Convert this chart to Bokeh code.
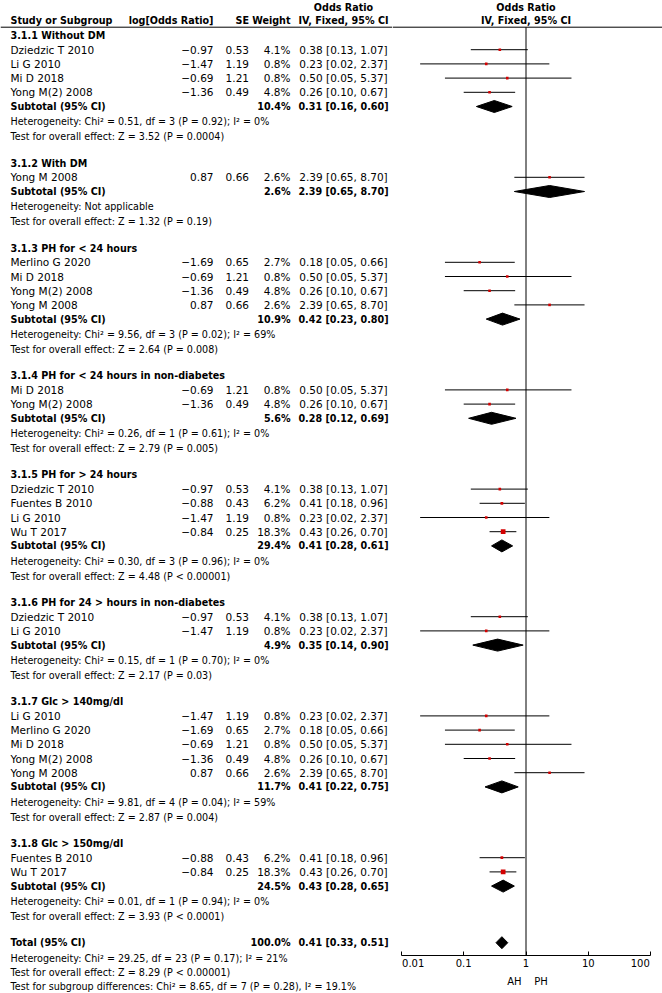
import math
from bokeh.plotting import figure
from bokeh.layouts import row
from bokeh.models import ColumnDataSource, Range1d, FixedTicker
from bokeh.core.properties import value
from bokeh.embed import file_html
from bokeh.resources import INLINE

# ---------------- data ----------------
STUDY_GROUP = [0, 0, 0, 0, 1, 2, 2, 2, 2, 3, 3, 4, 4, 4, 4, 5, 5, 6, 6, 6, 6, 6, 7, 7]
STUDY_NAME = ["Dziedzic T 2010", "Li G 2010", "Mi D 2018", "Yong M(2) 2008",
              "Yong M 2008",
              "Merlino G 2020", "Mi D 2018", "Yong M(2) 2008", "Yong M 2008",
              "Mi D 2018", "Yong M(2) 2008",
              "Dziedzic T 2010", "Fuentes B 2010", "Li G 2010", "Wu T 2017",
              "Dziedzic T 2010", "Li G 2010",
              "Li G 2010", "Merlino G 2020", "Mi D 2018", "Yong M(2) 2008", "Yong M 2008",
              "Fuentes B 2010", "Wu T 2017"]
STUDY_LOG_OR = [-0.97, -1.47, -0.69, -1.36, 0.87, -1.69, -0.69, -1.36, 0.87, -0.69, -1.36,
                -0.97, -0.88, -1.47, -0.84, -0.97, -1.47, -1.47, -1.69, -0.69, -1.36, 0.87,
                -0.88, -0.84]
STUDY_SE = [0.53, 1.19, 1.21, 0.49, 0.66, 0.65, 1.21, 0.49, 0.66, 1.21, 0.49,
            0.53, 0.43, 1.19, 0.25, 0.53, 1.19, 1.19, 0.65, 1.21, 0.49, 0.66, 0.43, 0.25]
STUDY_WEIGHT = [4.1, 0.8, 0.8, 4.8, 2.6, 2.7, 0.8, 4.8, 2.6, 0.8, 4.8,
                4.1, 6.2, 0.8, 18.3, 4.1, 0.8, 0.8, 2.7, 0.8, 4.8, 2.6, 6.2, 18.3]
STUDY_OR = [0.38, 0.23, 0.50, 0.26, 2.39, 0.18, 0.50, 0.26, 2.39, 0.50, 0.26,
            0.38, 0.41, 0.23, 0.43, 0.38, 0.23, 0.23, 0.18, 0.50, 0.26, 2.39, 0.41, 0.43]
STUDY_LO = [0.13, 0.02, 0.05, 0.10, 0.65, 0.05, 0.05, 0.10, 0.65, 0.05, 0.10,
            0.13, 0.18, 0.02, 0.26, 0.13, 0.02, 0.02, 0.05, 0.05, 0.10, 0.65, 0.18, 0.26]
STUDY_HI = [1.07, 2.37, 5.37, 0.67, 8.70, 0.66, 5.37, 0.67, 8.70, 5.37, 0.67,
            1.07, 0.96, 2.37, 0.70, 1.07, 2.37, 2.37, 0.66, 5.37, 0.67, 8.70, 0.96, 0.70]

SUB_TITLE = ["3.1.1 Without DM", "3.1.2 With DM", "3.1.3 PH for < 24 hours",
             "3.1.4 PH for < 24 hours in non-diabetes", "3.1.5 PH for > 24 hours",
             "3.1.6 PH for 24 > hours in non-diabetes", "3.1.7 Glc > 140mg/dl",
             "3.1.8 Glc > 150mg/dl"]
SUB_WEIGHT = [10.4, 2.6, 10.9, 5.6, 29.4, 4.9, 11.7, 24.5]
SUB_OR = [0.31, 2.39, 0.42, 0.28, 0.41, 0.35, 0.41, 0.43]
SUB_LO = [0.16, 0.65, 0.23, 0.12, 0.28, 0.14, 0.22, 0.28]
SUB_HI = [0.60, 8.70, 0.80, 0.69, 0.61, 0.90, 0.75, 0.65]
SUB_HET = ["Heterogeneity: Chi² = 0.51, df = 3 (P = 0.92); I² = 0%",
           "Heterogeneity: Not applicable",
           "Heterogeneity: Chi² = 9.56, df = 3 (P = 0.02); I² = 69%",
           "Heterogeneity: Chi² = 0.26, df = 1 (P = 0.61); I² = 0%",
           "Heterogeneity: Chi² = 0.30, df = 3 (P = 0.96); I² = 0%",
           "Heterogeneity: Chi² = 0.15, df = 1 (P = 0.70); I² = 0%",
           "Heterogeneity: Chi² = 9.81, df = 4 (P = 0.04); I² = 59%",
           "Heterogeneity: Chi² = 0.01, df = 1 (P = 0.94); I² = 0%"]
SUB_TEST = ["Test for overall effect: Z = 3.52 (P = 0.0004)",
            "Test for overall effect: Z = 1.32 (P = 0.19)",
            "Test for overall effect: Z = 2.64 (P = 0.008)",
            "Test for overall effect: Z = 2.79 (P = 0.005)",
            "Test for overall effect: Z = 4.48 (P < 0.00001)",
            "Test for overall effect: Z = 2.17 (P = 0.03)",
            "Test for overall effect: Z = 2.87 (P = 0.004)",
            "Test for overall effect: Z = 3.93 (P < 0.0001)"]

TOTAL_LABEL = "Total (95% CI)"
TOTAL_WEIGHT = 100.0
TOTAL_OR = 0.41
TOTAL_LO = 0.33
TOTAL_HI = 0.51
TOTAL_NOTES = ["Heterogeneity: Chi² = 29.25, df = 23 (P = 0.17); I² = 21%",
               "Test for overall effect: Z = 8.29 (P < 0.00001)",
               "Test for subgroup differences: Chi² = 8.65, df = 7 (P = 0.28), I² = 19.1%"]

HEADERS = ["Study or Subgroup", "log[Odds Ratio]", "SE", "Weight", "IV, Fixed, 95% CI"]
PLOT_HEADER = ["Odds Ratio", "IV, Fixed, 95% CI"]
AXIS_TICKS = [0.01, 0.1, 1, 10, 100]
AXIS_LABELS = ["0.01", "0.1", "1", "10", "100"]
AXIS_SIDES = ["AH", "PH"]

# ---------------- layout (reference pixel units) ----------------
FIG_H = 993
X0, XSPLIT, X1 = 0, 392, 662
NULL_X = 525.5
DECADE = 62.3
AXIS_Y = 955

X_NAME = 10
X_LOGOR = 213
X_SE = 248.5
X_WEIGHT = 290
X_CI = 343

Y_HEAD1 = 6.5
Y_HEAD2 = 20
Y_LINE = 26.7
Y_FIRST = 35
PITCH = 14.2
HET_GAP = 15.3
TEST_GAP = 15
BLOCK_GAP = 26.3
DIAM_H = 6
TOTAL_NOTE_GAP = 15.5
TOTAL_NOTE_PITCH = 14

FONT = "DejaVu Sans"
SZ_REG = "10.5px"
SZ_BOLD = "9.6px"
SZ_NOTE = "9.6px"

NBSP = "\u00a0"


def fnum(v):
    s = f"{v:.2f}"
    return s.replace("-", "\u2212")


def fci(o, lo, hi):
    return f"{o:.2f} [{lo:.2f}, {hi:.2f}]"


buckets = {}


def add(x, y, t, align="left", bold=False, size=SZ_REG):
    key = (align, bold, size)
    b = buckets.setdefault(key, {"x": [], "y": [], "t": []})
    b["x"].append(x)
    b["y"].append(y)
    b["t"].append(t)


# header
add(X_CI, Y_HEAD1, PLOT_HEADER[0], "center", True, SZ_BOLD)
add(X_NAME, Y_HEAD2, HEADERS[0], "left", True, SZ_BOLD)
add(X_LOGOR, Y_HEAD2, HEADERS[1], "right", True, SZ_BOLD)
add(X_SE, Y_HEAD2, HEADERS[2], "right", True, SZ_BOLD)
add(X_WEIGHT, Y_HEAD2, HEADERS[3], "right", True, SZ_BOLD)
add(X_CI, Y_HEAD2, HEADERS[4], "center", True, SZ_BOLD)

st_y, st_x, st_lo, st_hi, st_sz = [], [], [], [], []
dia_xs, dia_ys = [], []

y = Y_FIRST
for g, title in enumerate(SUB_TITLE):
    add(X_NAME, y, title, "left", True, SZ_BOLD)
    for i, gi in enumerate(STUDY_GROUP):
        if gi != g:
            continue
        y += PITCH
        add(X_NAME, y, STUDY_NAME[i])
        add(X_LOGOR, y, fnum(STUDY_LOG_OR[i]), "right")
        add(X_SE, y, f"{STUDY_SE[i]:.2f}", "right")
        add(X_WEIGHT, y, f"{STUDY_WEIGHT[i]:.1f}%", "right")
        add(X_CI, y, fci(STUDY_OR[i], STUDY_LO[i], STUDY_HI[i]), "center")
        st_y.append(y)
        st_x.append(STUDY_OR[i])
        st_lo.append(STUDY_LO[i])
        st_hi.append(STUDY_HI[i])
        st_sz.append(max(2.6, 1.1 * math.sqrt(STUDY_WEIGHT[i])))
    y += PITCH
    add(X_NAME, y, "Subtotal (95% CI)", "left", True, SZ_BOLD)
    add(X_WEIGHT, y, f"{SUB_WEIGHT[g]:.1f}%", "right", True, SZ_BOLD)
    add(X_CI, y, fci(SUB_OR[g], SUB_LO[g], SUB_HI[g]), "center", True, SZ_BOLD)
    dia_xs.append([SUB_LO[g], SUB_OR[g], SUB_HI[g], SUB_OR[g]])
    dia_ys.append([y, y - DIAM_H, y, y + DIAM_H])
    y += HET_GAP
    add(X_NAME, y, SUB_HET[g], "left", False, SZ_NOTE)
    y += TEST_GAP
    add(X_NAME, y, SUB_TEST[g], "left", False, SZ_NOTE)
    y += BLOCK_GAP

add(X_NAME, y, TOTAL_LABEL, "left", True, SZ_BOLD)
add(X_WEIGHT, y, f"{TOTAL_WEIGHT:.1f}%", "right", True, SZ_BOLD)
add(X_CI, y, fci(TOTAL_OR, TOTAL_LO, TOTAL_HI), "center", True, SZ_BOLD)
dia_xs.append([TOTAL_LO, TOTAL_OR, TOTAL_HI, TOTAL_OR])
dia_ys.append([y, y - DIAM_H, y, y + DIAM_H])
y += TOTAL_NOTE_GAP
for note in TOTAL_NOTES:
    add(X_NAME, y, note, "left", False, SZ_NOTE)
    y += TOTAL_NOTE_PITCH

# ---------------- left figure: table ----------------
left = figure(x_range=Range1d(X0, XSPLIT), y_range=Range1d(FIG_H, 0),
              frame_width=XSPLIT - X0, frame_height=FIG_H, min_border=0,
              toolbar_location=None, output_backend="svg",
              x_axis_location=None, y_axis_location=None,
              outline_line_color=None)
left.grid.visible = False

for (align, bold, size), b in buckets.items():
    src = ColumnDataSource(dict(x=b["x"], y=b["y"], t=b["t"]))
    left.text(x="x", y="y", text="t", source=src, text_align=align,
              text_baseline="middle", text_font=value(FONT),
              text_font_size=size, text_font_style="bold" if bold else "normal",
              text_color="black")

left.segment(x0=[X0], x1=[XSPLIT], y0=[Y_LINE], y1=[Y_LINE],
             line_color="black", line_width=1)

# ---------------- right figure: forest plot ----------------
xlo = 10 ** ((XSPLIT - NULL_X) / DECADE)
xhi = 10 ** ((X1 - NULL_X) / DECADE)

right = figure(x_axis_type="log", x_range=Range1d(xlo, xhi),
               y_range=Range1d(AXIS_Y, 0),
               frame_width=X1 - XSPLIT, frame_height=AXIS_Y,
               min_border=0, min_border_bottom=FIG_H - AXIS_Y,
               toolbar_location=None, output_backend="svg",
               y_axis_location=None, outline_line_color=None)
right.grid.visible = False

right.segment(x0=[xlo], x1=[xhi], y0=[Y_LINE], y1=[Y_LINE],
              line_color="black", line_width=1)
right.segment(x0=[1], x1=[1], y0=[Y_LINE], y1=[AXIS_Y],
              line_color="black", line_width=1)

hsrc = ColumnDataSource(dict(x=[1, 1], y=[Y_HEAD1, Y_HEAD2], t=PLOT_HEADER))
right.text(x="x", y="y", text="t", source=hsrc, text_align="center",
           text_baseline="middle", text_font=value(FONT),
           text_font_size=SZ_BOLD, text_font_style="bold", text_color="black")

ssrc = ColumnDataSource(dict(y=st_y, x=st_x, lo=st_lo, hi=st_hi, sz=st_sz))
right.segment(x0="lo", x1="hi", y0="y", y1="y", source=ssrc,
              line_color="black", line_width=1)
right.scatter(x="x", y="y", size="sz", marker="square", source=ssrc,
              fill_color="#d40000", line_color=None)

right.patches(xs=dia_xs, ys=dia_ys, fill_color="black", line_color="black")

ax = right.xaxis[0]
ax.ticker = FixedTicker(ticks=AXIS_TICKS)
ax.bounds = (AXIS_TICKS[0], AXIS_TICKS[-1])
overrides = {}
for i, (t, lab) in enumerate(zip(AXIS_TICKS, AXIS_LABELS)):
    if i == 0:
        lab = NBSP * 3 + lab
    elif i == len(AXIS_TICKS) - 1:
        lab = lab + NBSP * 4
    overrides[t] = lab
ax.major_label_overrides = overrides
ax.major_tick_in = 4
ax.major_tick_out = 0
ax.minor_tick_in = 0
ax.minor_tick_out = 0
ax.axis_line_color = "black"
ax.major_tick_line_color = "black"
ax.major_label_text_font = FONT
ax.major_label_text_font_size = "10px"
ax.major_label_text_color = "black"
ax.major_label_standoff = 2
ax.axis_label = AXIS_SIDES[0] + NBSP * 4 + AXIS_SIDES[1]
ax.axis_label_text_font = FONT
ax.axis_label_text_font_size = "10px"
ax.axis_label_text_font_style = "normal"
ax.axis_label_text_color = "black"
ax.axis_label_standoff = 4

layout = row(left, right)
open("out.html", "w").write(file_html(layout, INLINE))
